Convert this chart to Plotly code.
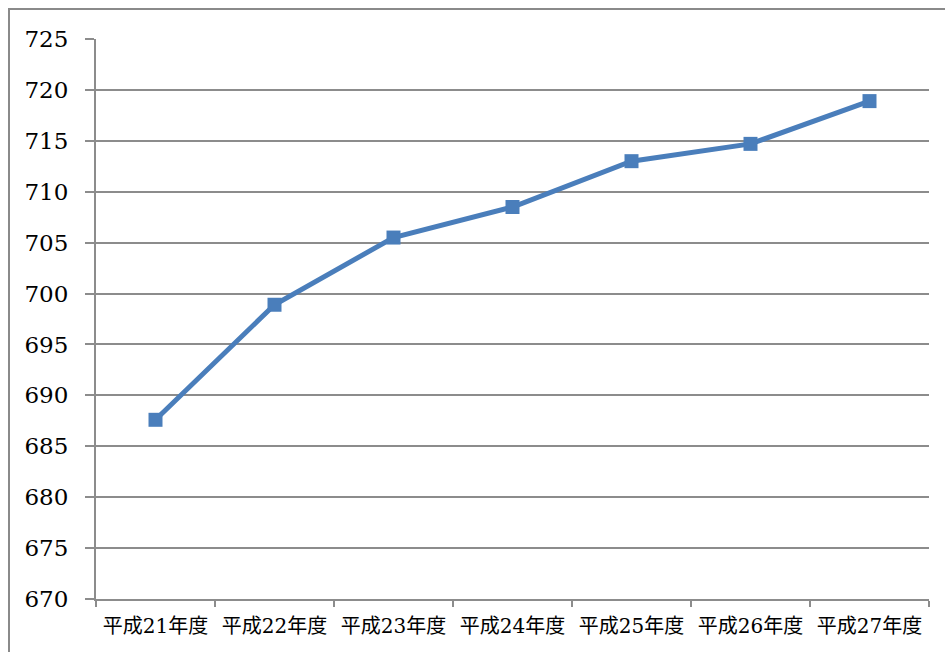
import plotly.graph_objects as go

# 年度別の推移
categories = ["平成21年度", "平成22年度", "平成23年度", "平成24年度",
              "平成25年度", "平成26年度", "平成27年度"]
values = [687.6, 698.9, 705.5, 708.5, 713.0, 714.7, 718.9]
y_ticks = list(range(670, 730, 5))

LINE_BLUE = "#4a7ebb"
GRID_GRAY = "#8c8c8c"

fig = go.Figure()
fig.add_trace(go.Scatter(
    x=categories, y=values,
    mode="lines+markers",
    line=dict(color=LINE_BLUE, width=5),
    marker=dict(symbol="square", size=14, color=LINE_BLUE),
    showlegend=False,
    hoverinfo="x+y",
))

W, H = 945, 652
L, R, T, B = 96, 16, 39, 53
pw, ph = W - L - R, H - T - B

def px_x(p):
    return (p - L) / pw

def px_y(p):
    return (H - B - p) / ph

# outer chart frame
fig.add_shape(type="rect", xref="paper", yref="paper",
              x0=px_x(9), x1=px_x(960), y0=px_y(9), y1=px_y(670),
              line=dict(color="#8a8a8a", width=2), layer="below")

fig.update_layout(
    width=W, height=H,
    margin=dict(l=L, r=R, t=T, b=B),
    paper_bgcolor="white", plot_bgcolor="white",
    font=dict(family="DejaVu Serif, Noto Sans CJK JP", color="#000000"),
    xaxis=dict(
        type="category",
        tickson="boundaries",
        ticks="outside", ticklen=6, tickcolor=GRID_GRAY, tickwidth=2,
        showline=True, linecolor=GRID_GRAY, linewidth=2,
        showgrid=False,
        tickfont=dict(size=20, family="DejaVu Serif, Noto Sans CJK JP"),
        ticklabelstandoff=8,
        range=[-0.5, 6.5],
    ),
    yaxis=dict(
        range=[670, 725],
        tickvals=y_ticks,
        ticks="outside", ticklen=9, tickcolor=GRID_GRAY, tickwidth=2,
        showline=True, linecolor=GRID_GRAY, linewidth=2,
        showgrid=True, gridcolor=GRID_GRAY, gridwidth=1.5,
        zeroline=False,
        tickfont=dict(size=23, family="DejaVu Serif"),
        ticklabelstandoff=12,
    ),
)

fig.write_html("out.html")
